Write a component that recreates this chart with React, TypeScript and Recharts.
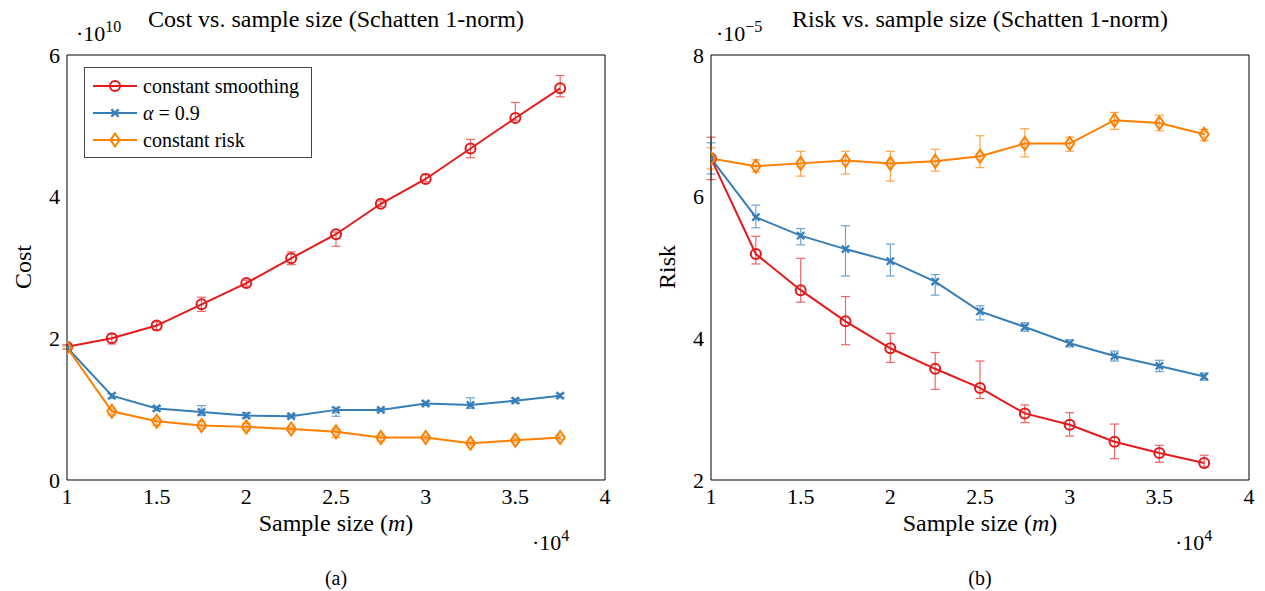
import { LineChart, Line, XAxis, YAxis, ErrorBar, Legend } from 'recharts'

const FONT = '"Liberation Serif", "DejaVu Serif", serif'
const RED = '#e41a1c'
const BLUE = '#377eb8'
const ORANGE = '#ff7f00'
const RED_ERR = '#ee6668'
const BLUE_ERR = '#6ea2d2'
const ORANGE_ERR = '#ffa54c'
const TICK = '#b4b4b4'

const sampleSize = [1, 1.25, 1.5, 1.75, 2, 2.25, 2.5, 2.75, 3, 3.25, 3.5, 3.75]
const xTicks = [1, 1.5, 2, 2.5, 3, 3.5, 4]
const xInnerTicks = [1.5, 2, 2.5, 3, 3.5]
const costTicks = [0, 2, 4, 6]
const costInnerTicks = [2, 4]
const riskTicks = [2, 4, 6, 8]
const riskInnerTicks = [4, 6]
const seriesNames = ['constant smoothing', 'α = 0.9', 'constant risk']

// cost, units of 1e10; errors are [below, above]
const costSmoothing = [1.88, 2.0, 2.18, 2.48, 2.78, 3.13, 3.47, 3.9, 4.25, 4.68, 5.11, 5.53]
const costSmoothingErr = [[0.03, 0.03], [0.08, 0.06], [0.06, 0.05], [0.1, 0.1], [0.04, 0.04], [0.09, 0.09], [0.17, 0.03], [0.04, 0.04], [0.04, 0.07], [0.13, 0.13], [0.03, 0.22], [0.12, 0.18]]
const costAlpha = [1.87, 1.19, 1.01, 0.96, 0.91, 0.9, 0.99, 0.99, 1.08, 1.06, 1.12, 1.19]
const costAlphaErr = [[0.02, 0.02], [0.04, 0.03], [0.03, 0.03], [0.05, 0.09], [0.03, 0.04], [0.02, 0.02], [0.09, 0.03], [0.02, 0.02], [0.03, 0.03], [0.05, 0.1], [0.03, 0.03], [0.03, 0.03]]
const costRisk = [1.87, 0.97, 0.83, 0.77, 0.75, 0.72, 0.68, 0.6, 0.6, 0.52, 0.56, 0.6]
const costRiskErr = [[0.02, 0.02], [0.05, 0.03], [0.06, 0.04], [0.04, 0.06], [0.04, 0.05], [0.03, 0.03], [0.08, 0.04], [0.05, 0.03], [0.03, 0.03], [0.03, 0.03], [0.03, 0.03], [0.03, 0.03]]

// risk, units of 1e-5
const riskSmoothing = [6.54, 5.19, 4.68, 4.24, 3.86, 3.57, 3.3, 2.94, 2.78, 2.54, 2.38, 2.24]
const riskSmoothingErr = [[0.3, 0.3], [0.14, 0.25], [0.17, 0.45], [0.33, 0.35], [0.2, 0.21], [0.29, 0.23], [0.15, 0.38], [0.13, 0.12], [0.16, 0.17], [0.24, 0.25], [0.13, 0.11], [0.06, 0.11]]
const riskAlpha = [6.54, 5.71, 5.45, 5.26, 5.09, 4.8, 4.38, 4.16, 3.93, 3.75, 3.61, 3.46]
const riskAlphaErr = [[0.22, 0.22], [0.15, 0.17], [0.13, 0.1], [0.38, 0.33], [0.21, 0.24], [0.19, 0.1], [0.12, 0.08], [0.06, 0.06], [0.05, 0.05], [0.07, 0.07], [0.08, 0.08], [0.05, 0.05]]
const riskRisk = [6.54, 6.43, 6.47, 6.51, 6.47, 6.5, 6.57, 6.75, 6.75, 7.08, 7.04, 6.88]
const riskRiskErr = [[0.15, 0.15], [0.08, 0.09], [0.18, 0.17], [0.19, 0.13], [0.25, 0.17], [0.14, 0.17], [0.16, 0.29], [0.19, 0.21], [0.11, 0.09], [0.13, 0.11], [0.11, 0.11], [0.09, 0.07]]

const buildRows = (s: number[], sE: number[][], a: number[], aE: number[][], r: number[], rE: number[][]) =>
  sampleSize.map((m, i) => ({
    m,
    smooth: s[i],
    smoothErr: sE[i],
    alpha: a[i],
    alphaErr: aE[i],
    risk: r[i],
    riskErr: rE[i],
  }))

const costRows = buildRows(costSmoothing, costSmoothingErr, costAlpha, costAlphaErr, costRisk, costRiskErr)
const riskRows = buildRows(riskSmoothing, riskSmoothingErr, riskAlpha, riskAlphaErr, riskRisk, riskRiskErr)

const circle = (cx: number, cy: number, key?: any) => (
  <circle key={key} cx={cx} cy={cy} r={5} fill="none" stroke={RED} strokeWidth={2} />
)
const cross = (cx: number, cy: number, key?: any) => {
  const d = 3.6
  return (
    <path key={key} d={`M${cx - d},${cy - d}L${cx + d},${cy + d}M${cx - d},${cy + d}L${cx + d},${cy - d}`} stroke={BLUE} strokeWidth={2.3} fill="none" />
  )
}
const diamond = (cx: number, cy: number, key?: any) => (
  <path key={key} d={`M${cx},${cy - 6.5}L${cx + 4.5},${cy}L${cx},${cy + 6.5}L${cx - 4.5},${cy}Z`} fill="none" stroke={ORANGE} strokeWidth={2} />
)
const markers = [circle, cross, diamond]
const colors = [RED, BLUE, ORANGE]

function LegendBox() {
  return (
    <div
      style={{
        width: 228,
        height: 91,
        boxSizing: 'border-box',
        border: '1px solid #444',
        background: '#fff',
        fontFamily: FONT,
        fontSize: 20,
        paddingTop: 4,
      }}
    >
      {seriesNames.map((name, i) => (
        <div key={name} style={{ display: 'flex', alignItems: 'center', height: 27 }}>
          <svg width={44} height={16} style={{ marginLeft: 8, flexShrink: 0 }}>
            <line x1={0} y1={8} x2={44} y2={8} stroke={colors[i]} strokeWidth={2} />
            {markers[i](22, 8)}
          </svg>
          <span style={{ marginLeft: 6, color: '#000', lineHeight: 1, fontFamily: FONT }}>
            {name.startsWith('α') ? (
              <>
                <i>α</i>
                {name.slice(1)}
              </>
            ) : (
              name
            )}
          </span>
        </div>
      ))}
    </div>
  )
}

const tickStyle = { fill: '#000', fontSize: 22, style: { fontFamily: FONT } }

function frameAxes(yDomain: number[], yTicks: number[], yInner: number[]) {
  return [
    <XAxis key="x" xAxisId="x" dataKey="m" type="number" domain={[1, 4]} ticks={xTicks} interval={0}
      allowDataOverflow tickLine={false} tickSize={0} tickMargin={8} height={30}
      axisLine={{ stroke: '#000', strokeWidth: 1 }} tick={tickStyle} />,
    <XAxis key="xb" xAxisId="xb" type="number" domain={[1, 4]} ticks={xInnerTicks} interval={0}
      allowDataOverflow mirror tick={false} axisLine={false} tickLine={{ stroke: TICK }} tickSize={6} />,
    <XAxis key="xt" xAxisId="xt" orientation="top" type="number" domain={[1, 4]} ticks={xInnerTicks} interval={0}
      allowDataOverflow mirror tick={false} axisLine={{ stroke: '#000', strokeWidth: 1 }} tickLine={{ stroke: TICK }} tickSize={6} />,
    <YAxis key="y" yAxisId="y" type="number" domain={yDomain} ticks={yTicks} interval={0}
      allowDataOverflow tickLine={false} tickSize={0} tickMargin={7} width={40}
      axisLine={{ stroke: '#000', strokeWidth: 1 }} tick={tickStyle} />,
    <YAxis key="yl" yAxisId="yl" type="number" domain={yDomain} ticks={yInner} interval={0}
      allowDataOverflow mirror tick={false} axisLine={false} tickLine={{ stroke: TICK }} tickSize={6} />,
    <YAxis key="yr" yAxisId="yr" orientation="right" type="number" domain={yDomain} ticks={yInner} interval={0}
      allowDataOverflow mirror tick={false} axisLine={{ stroke: '#000', strokeWidth: 1 }} tickLine={{ stroke: TICK }} tickSize={6} />,
  ]
}

function seriesLines() {
  const keys = ['smooth', 'alpha', 'risk']
  const errColors = [RED_ERR, BLUE_ERR, ORANGE_ERR]
  return keys.map((k, i) => (
    <Line
      key={k}
      xAxisId="x"
      yAxisId="y"
      dataKey={k}
      name={seriesNames[i]}
      type="linear"
      stroke={colors[i]}
      strokeWidth={2}
      isAnimationActive={false}
      activeDot={false}
      dot={(p: any) => markers[i](p.cx, p.cy, `${k}-${p.index}`)}
    >
      <ErrorBar dataKey={`${k}Err`} direction="y" width={4.5} stroke={errColors[i]} strokeWidth={1.2} isAnimationActive={false} />
    </Line>
  ))
}

export default function App() {
  return (
    <div style={{ position: 'absolute', left: 0, top: 0, width: 1265, height: 591, background: '#fff', overflow: 'hidden', fontFamily: FONT }}>
      <div style={{ position: 'absolute', left: 0, top: 0 }}>
        <LineChart width={640} height={591} data={costRows} margin={{ top: 55, right: 35, bottom: 81, left: 27 }}>
          {frameAxes([0, 6], costTicks, costInnerTicks)}
          {seriesLines()}
          <Legend
            layout="vertical"
            align="center"
            verticalAlign="middle"
            wrapperStyle={{ left: 84, top: 67, width: 228, height: 91 }}
            content={() => <LegendBox />}
          />
        </LineChart>
      </div>
      <div style={{ position: 'absolute', left: 640, top: 0 }}>
        <LineChart width={625} height={591} data={riskRows} margin={{ top: 55, right: 16, bottom: 81, left: 31 }}>
          {frameAxes([2, 8], riskTicks, riskInnerTicks)}
          {seriesLines()}
        </LineChart>
      </div>
      <svg width={1265} height={591} style={{ position: 'absolute', left: 0, top: 0, pointerEvents: 'none', fontFamily: FONT }} fill="#000">
        <text x={336} y={27} fontSize={24} textAnchor="middle">Cost vs. sample size (Schatten 1-norm)</text>
        <text x={980} y={27} fontSize={24} textAnchor="middle">Risk vs. sample size (Schatten 1-norm)</text>
        <text x={76} y={41} fontSize={22}>
          ·10<tspan dy={-9} fontSize={16}>10</tspan>
        </text>
        <text x={716} y={41} fontSize={22}>
          ·10<tspan dy={-9} fontSize={16}>−5</tspan>
        </text>
        <text transform="translate(31,267) rotate(-90)" fontSize={24} textAnchor="middle">Cost</text>
        <text transform="translate(675,267) rotate(-90)" fontSize={24} textAnchor="middle">Risk</text>
        <text x={336} y={531} fontSize={24} textAnchor="middle">
          Sample size (<tspan fontStyle="italic">m</tspan>)
        </text>
        <text x={980} y={531} fontSize={24} textAnchor="middle">
          Sample size (<tspan fontStyle="italic">m</tspan>)
        </text>
        <text x={532} y={550} fontSize={22}>
          ·10<tspan dy={-9} fontSize={16}>4</tspan>
        </text>
        <text x={1175} y={550} fontSize={22}>
          ·10<tspan dy={-9} fontSize={16}>4</tspan>
        </text>
        <text x={336} y={585} fontSize={20} textAnchor="middle">(a)</text>
        <text x={980} y={585} fontSize={20} textAnchor="middle">(b)</text>
      </svg>
    </div>
  )
}
